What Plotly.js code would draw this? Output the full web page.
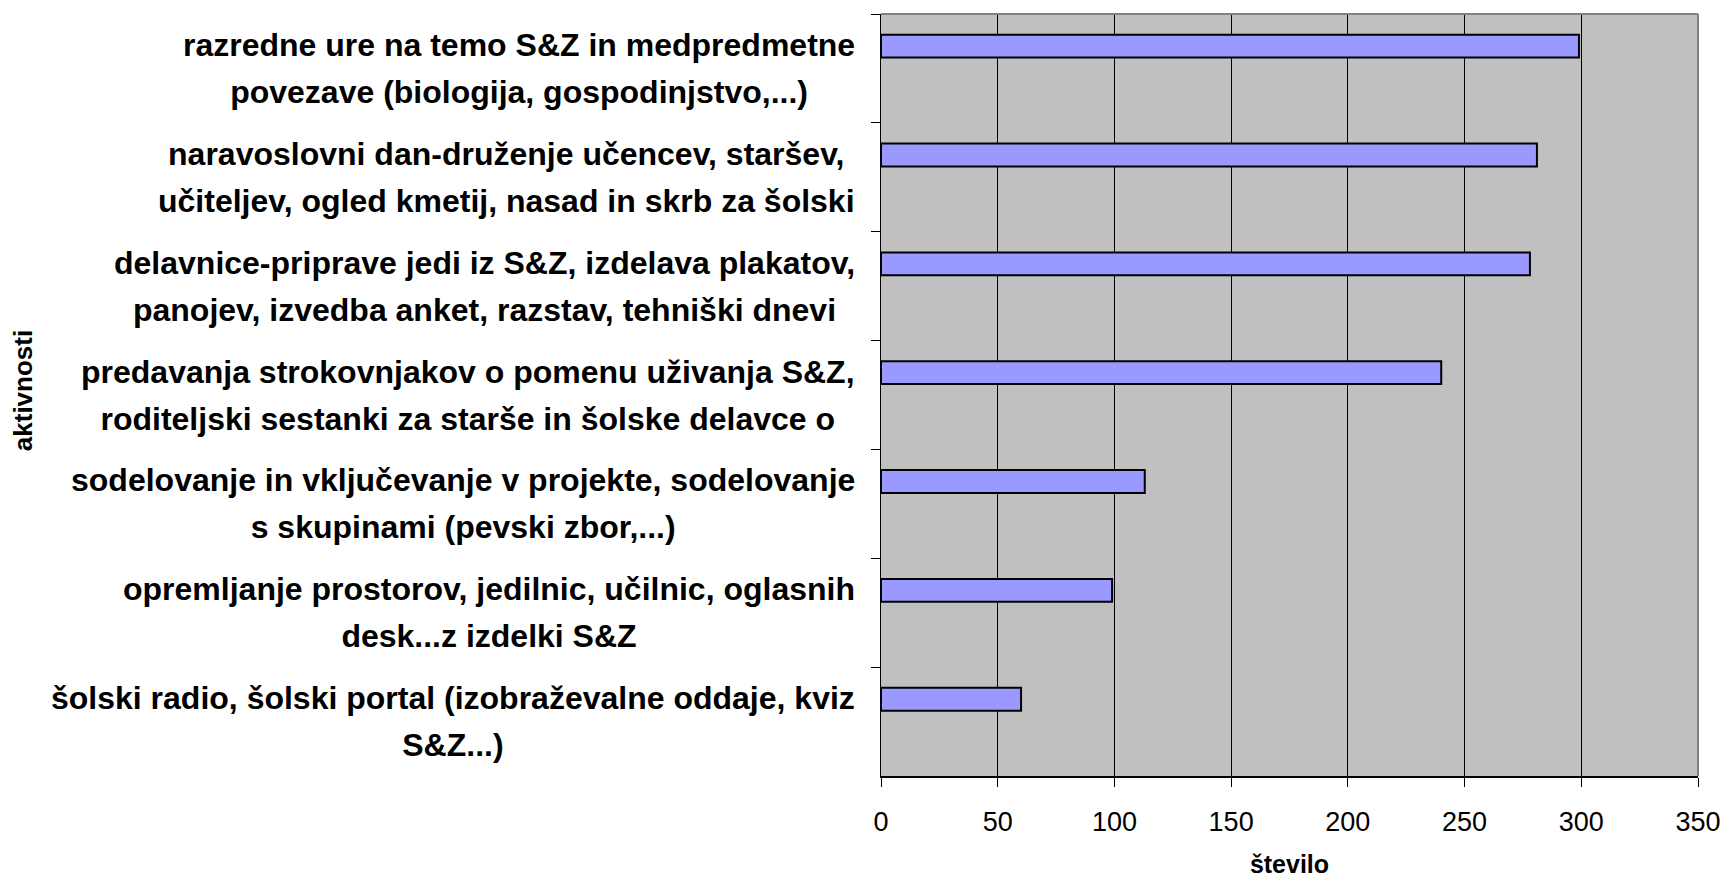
<!DOCTYPE html>
<html>
<head>
<meta charset="utf-8">
<script src="https://cdn.plot.ly/plotly-3.0.1.min.js"></script>
<style>html,body{margin:0;padding:0;background:#fff;}#chart{width:1723px;height:878px;}</style>
</head>
<body>
<div id="chart"></div>
<script>
// Category labels (two lines each), top to bottom
const categoryLines = [
  ["razredne ure na temo S&Z in medpredmetne", "povezave (biologija, gospodinjstvo,...)"],
  ["naravoslovni dan-druženje učencev, staršev,", "učiteljev, ogled kmetij, nasad in skrb za šolski"],
  ["delavnice-priprave jedi iz S&Z, izdelava plakatov,", "panojev, izvedba anket, razstav, tehniški dnevi"],
  ["predavanja strokovnjakov o pomenu uživanja S&Z,", "roditeljski sestanki za starše in šolske delavce o"],
  ["sodelovanje in vključevanje v projekte, sodelovanje", "s skupinami (pevski zbor,...)"],
  ["opremljanje prostorov, jedilnic, učilnic, oglasnih", "desk...z izdelki S&Z"],
  ["šolski radio, šolski portal (izobraževalne oddaje, kviz", "S&Z...)"]
];
const values = [299, 281, 278, 240, 113, 99, 60];
const xTicks = [0, 50, 100, 150, 200, 250, 300, 350];
const xTitle = "število";
const yTitle = "aktivnosti";

const categories = categoryLines.map(l => l.join(" "));

const FONT = "Liberation Sans, Arial, sans-serif";

const trace = {
  type: "bar",
  orientation: "h",
  y: categories,
  x: values,
  width: 0.21,
  offset: -0.31,
  marker: { color: "#9999FF", line: { color: "#000000", width: 2 } },
  hoverinfo: "x+y"
};

const annotations = categoryLines.map((lines, i) => ({
  xref: "paper", yref: "y",
  x: 0, y: categories[i],
  xanchor: "right", yanchor: "middle",
  xshift: -24,
  align: "center",
  showarrow: false,
  font: { family: FONT, size: 36, color: "#000" },
  text: lines.map(t => '<span style="font-size:32px;font-weight:bold">' + t.replace(/&/g, "&amp;") + '</span>').join("<br>")
}));

const layout = {
  width: 1723,
  height: 878,
  margin: { l: 881, r: 25, t: 14, b: 102 },
  paper_bgcolor: "#ffffff",
  plot_bgcolor: "#C0C0C0",
  showlegend: false,
  font: { family: FONT, color: "#000" },
  xaxis: {
    range: [0, 350],
    tickvals: xTicks,
    ticktext: xTicks.map(String),
    ticks: "outside",
    ticklen: 9,
    tickcolor: "#000",
    tickwidth: 1,
    ticklabelstandoff: 12,
    tickfont: { family: FONT, size: 27, color: "#000" },
    showgrid: true,
    gridcolor: "#000000",
    gridwidth: 1,
    zeroline: false,
    showline: true,
    linecolor: "#000",
    linewidth: 1.5,
    title: { text: "<b>" + xTitle + "</b>", font: { family: FONT, size: 25, color: "#000" }, standoff: 24 },
    fixedrange: true
  },
  yaxis: {
    type: "category",
    categoryorder: "array",
    categoryarray: categories,
    range: [6.5, -0.5],
    tickson: "boundaries",
    ticks: "outside",
    ticklen: 9,
    tickcolor: "#000",
    showticklabels: false,
    showgrid: false,
    zeroline: false,
    showline: true,
    linecolor: "#000",
    linewidth: 1.5,
    fixedrange: true
  },
  annotations: annotations.concat([{
    xref: "paper", yref: "paper",
    x: 0, y: 0.505,
    xshift: -858,
    xanchor: "center", yanchor: "middle",
    textangle: -90,
    showarrow: false,
    text: "<b>" + yTitle + "</b>",
    font: { family: FONT, size: 26, color: "#000" }
  }]),
  shapes: [
    { type: "line", xref: "paper", yref: "paper", x0: 0, x1: 1, y0: 1, y1: 1, line: { color: "#808080", width: 2 } },
    { type: "line", xref: "paper", yref: "paper", x0: 1, x1: 1, y0: 0, y1: 1, line: { color: "#808080", width: 2 } }
  ]
};

Plotly.newPlot("chart", [trace], layout, { displayModeBar: false, staticPlot: true });
</script>
</body>
</html>
